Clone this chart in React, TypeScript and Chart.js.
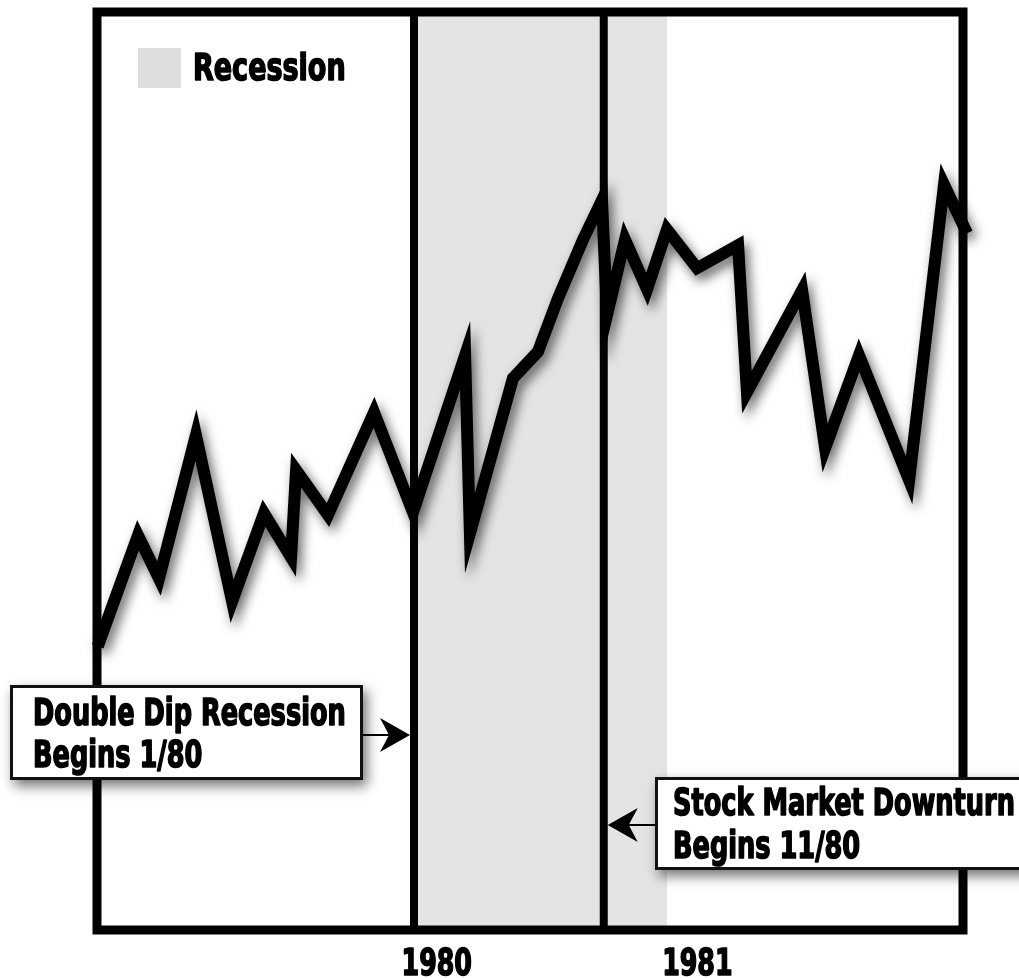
import React, { useEffect, useRef } from "react";
import { Chart, registerables } from "chart.js";

Chart.register(...registerables);

// ---- data (x in decimal years, y in index units) ----
const xValues = [
  1978.75, 1978.909, 1978.992, 1979.138, 1979.281, 1979.407, 1979.514, 1979.534,
  1979.66, 1979.842, 1979.996, 1980.202, 1980.221, 1980.391, 1980.49, 1980.569,
  1980.668, 1980.743, 1980.763, 1980.834, 1980.921, 1981.0, 1981.119, 1981.281,
  1981.316, 1981.534, 1981.625, 1981.759, 1981.957, 1982.095, 1982.186,
];
const yValues = [
  30.9, 43.0, 38.3, 53.9, 35.8, 45.4, 40.6, 50.1,
  45.2, 56.4, 45.5, 62.6, 43.2, 60.1, 63.0, 68.8,
  75.2, 79.5, 67.0, 75.2, 69.8, 76.3, 72.1, 74.6,
  58.6, 69.7, 52.5, 62.6, 49.0, 81.2, 75.9,
];
const tickValues = [1980.09, 1981.12];
const tickLabels = ["1980", "1981"];
const recessionStart = 1980.0;
const recessionEnd = 1981.0;
const markerDates = [1980.0, 1980.75];
const legendLabel = "Recession";
const note1 = ["Double Dip Recession", "Begins 1/80"];
const note2 = ["Stock Market Downturn", "Begins 11/80"];
const xMin = 1978.747;
const xMax = 1982.17;

const FONT = '"DejaVu Sans Condensed", "Liberation Sans Narrow", sans-serif';
const SHADE = "#e4e4e4";

function condensedText(
  ctx: CanvasRenderingContext2D, text: string, x: number, y: number,
  size: number, sx: number, align: CanvasTextAlign = "left"
) {
  ctx.save();
  ctx.translate(x, y);
  ctx.scale(sx, 1);
  ctx.font = `bold ${size}px ${FONT}`;
  ctx.textAlign = align;
  ctx.textBaseline = "alphabetic";
  ctx.fillStyle = "#000";
  ctx.strokeStyle = "#000";
  ctx.lineWidth = 1.6;
  ctx.lineJoin = "round";
  ctx.strokeText(text, 0, 0);
  ctx.fillText(text, 0, 0);
  ctx.restore();
}

function drawArrow(ctx: CanvasRenderingContext2D, fromX: number, tipX: number, y: number) {
  const dir = tipX > fromX ? 1 : -1;
  ctx.save();
  ctx.strokeStyle = "#000";
  ctx.lineWidth = 2;
  ctx.beginPath();
  ctx.moveTo(fromX, y);
  ctx.lineTo(tipX - dir * 10, y);
  ctx.stroke();
  ctx.fillStyle = "#000";
  ctx.beginPath();
  ctx.moveTo(tipX, y);
  ctx.lineTo(tipX - dir * 30, y - 17);
  ctx.lineTo(tipX - dir * 21, y);
  ctx.lineTo(tipX - dir * 30, y + 17);
  ctx.closePath();
  ctx.fill();
  ctx.restore();
}

function drawBox(
  ctx: CanvasRenderingContext2D,
  x: number, y: number, w: number, h: number,
  lines: string[], tx: number, baselines: number[]
) {
  ctx.save();
  ctx.shadowColor = "rgba(0,0,0,0.55)";
  ctx.shadowBlur = 12;
  ctx.shadowOffsetX = 4;
  ctx.shadowOffsetY = 6;
  ctx.fillStyle = "#fff";
  ctx.fillRect(x, y, w, h);
  ctx.shadowColor = "transparent";
  ctx.strokeStyle = "#111";
  ctx.lineWidth = 3;
  ctx.strokeRect(x + 1.5, y + 1.5, w - 3, h - 3);
  ctx.restore();
  lines.forEach((l, i) => condensedText(ctx, l, tx, baselines[i], 37, 0.77));
}

const decorPlugin = {
  id: "decor",
  beforeDatasetsDraw(chart: any) {
    const { ctx, chartArea: a, scales } = chart;
    const x = scales.x;
    ctx.save();
    ctx.fillStyle = "#fff";
    ctx.fillRect(a.left, a.top, a.right - a.left, a.bottom - a.top);
    const x0 = x.getPixelForValue(recessionStart);
    const x1 = x.getPixelForValue(recessionEnd);
    ctx.fillStyle = SHADE;
    ctx.fillRect(x0, a.top, x1 - x0, a.bottom - a.top);
    ctx.strokeStyle = "#000";
    ctx.lineWidth = 8;
    markerDates.forEach((d) => {
      const px = x.getPixelForValue(d);
      ctx.beginPath();
      ctx.moveTo(px, a.top);
      ctx.lineTo(px, a.bottom);
      ctx.stroke();
    });
    // legend
    ctx.fillStyle = "#dedede";
    ctx.fillRect(138, 48, 43, 40);
    ctx.restore();
    condensedText(ctx, legendLabel, 193, 80, 38, 0.79);
  },
  beforeDatasetDraw(chart: any) {
    const ctx = chart.ctx;
    ctx.save();
    ctx.shadowColor = "rgba(0,0,0,0.6)";
    ctx.shadowBlur = 12;
    ctx.shadowOffsetX = 4;
    ctx.shadowOffsetY = 6;
  },
  afterDatasetDraw(chart: any) {
    chart.ctx.restore();
  },
  afterDatasetsDraw(chart: any) {
    const { ctx, chartArea: a, scales } = chart;
    const x = scales.x;
    ctx.save();
    ctx.strokeStyle = "#000";
    ctx.lineWidth = 9;
    ctx.strokeRect(a.left, a.top, a.right - a.left, a.bottom - a.top);
    ctx.restore();

    // tick labels (condensed) at the scale's tick positions
    x.ticks.forEach((t: any, i: number) => {
      const px = x.getPixelForValue(t.value);
      condensedText(ctx, tickLabels[i], px, 975, 38, 0.74, "center");
    });

    const m1 = x.getPixelForValue(markerDates[0]) - 4;
    const m2 = x.getPixelForValue(markerDates[1]) + 4;
    drawArrow(ctx, 363, m1, 735);
    drawArrow(ctx, 655, m2, 825);
    drawBox(ctx, 10, 685, 353, 95, note1, 33, [725, 767]);
    drawBox(ctx, 655, 777, 380, 93, note2, 673, [815, 858]);
  },
};

export default function App() {
  const ref = useRef<HTMLCanvasElement>(null);
  useEffect(() => {
    if (!ref.current) return;
    const data = xValues.map((xv, i) => ({ x: xv, y: yValues[i] }));
    const chart = new Chart(ref.current, {
      type: "line",
      data: {
        datasets: [
          {
            data,
            borderColor: "#000",
            borderWidth: 12,
            borderJoinStyle: "miter",
            borderCapStyle: "butt",
            pointRadius: 0,
            tension: 0,
            fill: false,
            clip: false,
          } as any,
        ],
      },
      options: {
        responsive: false,
        animation: false,
        layout: { padding: { left: 97, right: 56, top: 12, bottom: 0 } },
        plugins: { legend: { display: false }, tooltip: { enabled: false } },
        scales: {
          x: {
            type: "linear",
            min: xMin,
            max: xMax,
            grid: { display: false, drawTicks: false },
            border: { display: false },
            afterBuildTicks: (s: any) => {
              s.ticks = tickValues.map((v) => ({ value: v }));
            },
            afterFit: (s: any) => {
              s.height = 48;
            },
            ticks: {
              autoSkip: false,
              maxRotation: 0,
              minRotation: 0,
              padding: 6,
              color: "rgba(0,0,0,0)",
              font: { family: FONT, size: 38, weight: "bold" },
              callback: (_v: any, i: number) => tickLabels[i],
            },
          },
          y: { display: false, min: 0, max: 100 },
        },
      },
      plugins: [decorPlugin],
    });
    return () => chart.destroy();
  }, []);
  return (
    <div style={{ position: "fixed", left: 0, top: 0, width: 1019, height: 978, background: "#fff" }}>
      <canvas ref={ref} width={1019} height={978} style={{ display: "block" }} />
    </div>
  );
}
